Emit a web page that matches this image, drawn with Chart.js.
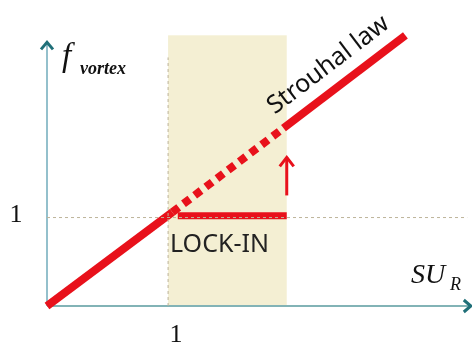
<!DOCTYPE html>
<html>
<head>
<meta charset="utf-8">
<script src="https://cdn.jsdelivr.net/npm/chart.js@4"></script>
<style>
  body { margin: 0; background: #ffffff; }
  canvas { display: block; }
</style>
</head>
<body>
<canvas id="lockin-chart" width="472" height="349"></canvas>
<script>
// values (x = S*U_R, y = f_vortex)
const lowerLawX = [0, 1.035];
const lowerLawY = [0, 1.06];
const dashedLawX = [1.035, 1.953];
const dashedLawY = [1.06, 2.01];
const upperLawX = [1.953, 2.96];
const upperLawY = [2.01, 3.06];
const lockInX = [1.08, 1.98];
const lockInY = [1.02, 1.02];
const jumpX = [1.98, 1.98];
const jumpY = [1.25, 1.68];
const bandX = [1, 1.98];
const bandY = [0, 3.06];
const refVertX = [1, 1];
const refVertY = [0, 2.81];
const refHorzX = [0, 3.47];
const refHorzY = [1, 1];
const axisEnd = { x: 3.5, y: 2.98 };
const tickLabels = ['1', '1'];

const red = '#e8111b';

function pts(xs, ys) {
    return xs.map((x, i) => ({ x: x, y: ys[i] }));
}

function lineSet(xs, ys, color, width, dash) {
    return {
        data: pts(xs, ys),
        showLine: true,
        borderColor: color,
        borderWidth: width,
        borderDash: dash || [],
        borderCapStyle: 'butt',
        pointRadius: 0,
        clip: false
    };
}

function chevron(ctx, x, y, dir, size, depth) {
    // open arrow head pointing in direction dir ('up' or 'right')
    ctx.beginPath();
    if (dir === 'up') {
        ctx.moveTo(x - size, y + depth);
        ctx.lineTo(x, y);
        ctx.lineTo(x + size, y + depth);
    } else {
        ctx.moveTo(x - depth, y - size);
        ctx.lineTo(x, y);
        ctx.lineTo(x - depth, y + size);
    }
    ctx.stroke();
}

const sketchPlugin = {
    id: 'sketch',
    beforeDatasetsDraw(chart) {
        const { ctx, scales: { x, y } } = chart;
        ctx.save();
        // lock-in band
        ctx.fillStyle = '#f4efd3';
        const bx0 = x.getPixelForValue(bandX[0]), bx1 = x.getPixelForValue(bandX[1]);
        const by0 = y.getPixelForValue(bandY[1]), by1 = y.getPixelForValue(bandY[0]);
        ctx.fillRect(bx0, by0, bx1 - bx0, by1 - by0);

        // axes
        const ox = x.getPixelForValue(0), oy = y.getPixelForValue(0);
        const ty = y.getPixelForValue(axisEnd.y), tx = x.getPixelForValue(axisEnd.x);
        ctx.lineWidth = 2;
        ctx.strokeStyle = '#94c0cc';
        ctx.beginPath();
        ctx.moveTo(ox, oy);
        ctx.lineTo(ox, ty + 1);
        ctx.stroke();
        ctx.strokeStyle = '#82b3b6';
        ctx.beginPath();
        ctx.moveTo(ox, oy);
        ctx.lineTo(tx - 1, oy);
        ctx.stroke();
        ctx.strokeStyle = '#1f6f78';
        ctx.lineWidth = 3;
        chevron(ctx, ox, ty, 'up', 6, 7);
        chevron(ctx, tx, oy, 'right', 6, 7);
        ctx.restore();
    },
    afterDatasetsDraw(chart) {
        const { ctx, scales: { x, y } } = chart;
        ctx.save();
        // arrow head of the jump
        ctx.strokeStyle = red;
        ctx.lineWidth = 3;
        chevron(ctx, x.getPixelForValue(jumpX[1]), y.getPixelForValue(jumpY[1]), 'up', 7, 9);

        // labels
        ctx.fillStyle = '#111111';
        ctx.textBaseline = 'alphabetic';
        ctx.textAlign = 'left';
        ctx.font = 'italic 33px "Liberation Serif"';
        ctx.fillText('f', 62, 66);
        ctx.font = 'italic bold 18px "Liberation Serif"';
        ctx.fillText('vortex', 80, 74);

        ctx.font = 'italic 28px "Liberation Serif"';
        ctx.fillText('SU', 411, 283);
        ctx.font = 'italic 18px "Liberation Serif"';
        ctx.fillText('R', 450, 290);

        ctx.font = '26px "Liberation Serif"';
        ctx.textAlign = 'center';
        ctx.fillText(tickLabels[1], 16, y.getPixelForValue(refHorzY[0]) + 4);
        ctx.fillText(tickLabels[0], x.getPixelForValue(refVertX[0]) + 8, 342);

        ctx.fillStyle = '#222222';
        ctx.font = '25px "Noto Sans"';
        ctx.textAlign = 'left';
        ctx.fillText('LOCK-IN', 170, 252);

        // rotated Strouhal law text along the upper line
        const ax = x.getPixelForValue(upperLawX[0]), ay = y.getPixelForValue(upperLawY[0]);
        const bx = x.getPixelForValue(upperLawX[1]), by = y.getPixelForValue(upperLawY[1]);
        const ang = Math.atan2(by - ay, bx - ax);
        ctx.translate(x.getPixelForValue(2.36), y.getPixelForValue(2.66));
        ctx.rotate(ang);
        ctx.textAlign = 'center';
        ctx.font = '25px "Noto Sans"';
        ctx.fillStyle = '#111111';
        ctx.fillText('Strouhal law', 0, 0);
        ctx.restore();
    }
};

const ctx = document.getElementById('lockin-chart').getContext('2d');
const myChart = new Chart(ctx, {
    type: 'scatter',
    data: {
        datasets: [
            lineSet(refVertX, refVertY, '#bdb49a', 1, [3, 3]),
            lineSet(refHorzX, refHorzY, '#bdb49a', 1, [3, 3]),
            lineSet(lowerLawX, lowerLawY, red, 8),
            lineSet(dashedLawX, dashedLawY, red, 8, [8, 6]),
            lineSet(upperLawX, upperLawY, red, 8),
            lineSet(lockInX, lockInY, red, 7),
            lineSet(jumpX, jumpY, red, 3)
        ]
    },
    options: {
        responsive: false,
        animation: false,
        devicePixelRatio: 1,
        layout: {
            padding: { left: 47, right: 0, top: 30, bottom: 43 }
        },
        plugins: {
            legend: { display: false },
            tooltip: { enabled: false }
        },
        scales: {
            x: { type: 'linear', min: 0, max: 3.51, display: false },
            y: { type: 'linear', min: 0, max: 3.12, display: false }
        }
    },
    plugins: [sketchPlugin]
});
</script>
</body>
</html>
